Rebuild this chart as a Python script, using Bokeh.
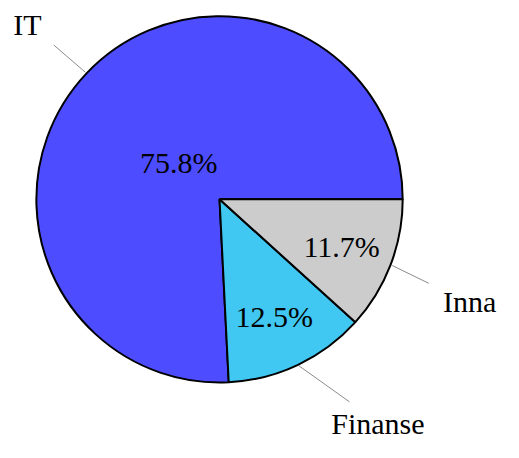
import numpy as np
from bokeh.plotting import figure
from bokeh.models import ColumnDataSource
from bokeh.core.properties import value
from bokeh.embed import file_html
from bokeh.resources import INLINE

# ---- data ----
categories = ["IT", "Finanse", "Inna"]
shares = [75.8, 12.5, 11.7]
pct_labels = ["75.8%", "12.5%", "11.7%"]
colors = ["#4d4dff", "#40c8f2", "#cccccc"]

# ---- layout (style) ----
W, H = 503, 442          # figure size in screen pixels
XR, YR = 519, 458        # drawing space
CX, CY, R = 226, 252, 189
pct_dist = [0.30, 0.707, 0.716]
pct_ang_off = [1.5, -0.4, -0.3]
lab_dist = [1.421, 1.504, 1.477]
lab_ang_off = [1.1, 9.7, -1.3]
end_dist = [1.239, 1.318, 1.232]
end_ang_off = [0.5, 7.2, -0.9]
FONT = "Liberation Serif"
FS = "30px"

vals = np.array(shares, dtype=float)
frac = vals / vals.sum()
ends = np.cumsum(frac) * 2 * np.pi
starts = np.concatenate([[0.0], ends[:-1]])
mids = (starts + ends) / 2

p = figure(width=W, height=H, x_range=(0, XR), y_range=(0, YR),
           output_backend="svg", toolbar_location=None, min_border=0)
p.axis.visible = False
p.grid.visible = False
p.outline_line_color = None
p.background_fill_color = "white"

src = ColumnDataSource(dict(start=starts, end=ends, color=colors))
p.wedge(x=CX, y=CY, radius=R, start_angle="start", end_angle="end",
        fill_color="color", line_color="black", line_width=2, source=src)

# leader lines
for i in range(len(categories)):
    a0 = mids[i]
    a1 = mids[i] + np.deg2rad(end_ang_off[i])
    x0 = CX + R * 1.01 * np.cos(a0)
    y0 = CY + R * 1.01 * np.sin(a0)
    x1 = CX + R * end_dist[i] * np.cos(a1)
    y1 = CY + R * end_dist[i] * np.sin(a1)
    p.line([x0, x1], [y0, y1], line_color="#8c8c8c", line_width=1)

# percentage labels
pa = mids + np.deg2rad(pct_ang_off)
px = CX + R * np.array(pct_dist) * np.cos(pa)
py = CY + R * np.array(pct_dist) * np.sin(pa)
p.text(x=px, y=py, text=pct_labels, text_align="center", text_baseline="middle",
       text_font=value(FONT), text_font_size=FS, text_color="black")

# category labels
la = mids + np.deg2rad(lab_ang_off)
lx = CX + R * np.array(lab_dist) * np.cos(la)
ly = CY + R * np.array(lab_dist) * np.sin(la)
p.text(x=lx, y=ly, text=categories, text_align="center", text_baseline="middle",
       text_font=value(FONT), text_font_size=FS, text_color="black")

open("out.html", "w").write(file_html(p, INLINE))
